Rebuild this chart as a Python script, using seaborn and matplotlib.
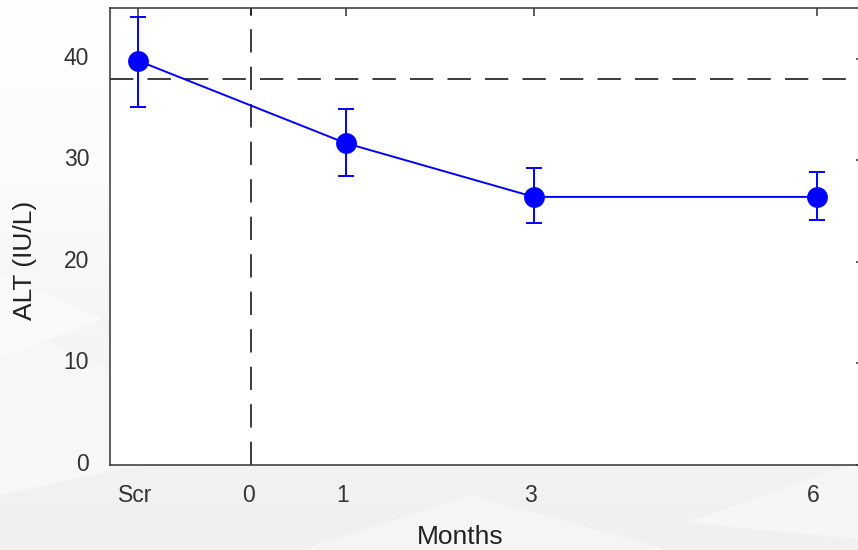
import matplotlib
matplotlib.use("Agg")
import matplotlib.pyplot as plt
import matplotlib.transforms as mtransforms
from matplotlib.patches import Polygon
import numpy as np
import pandas as pd
import seaborn as sns

# Visit labels, their position on the month axis, and ALT summary values
visits = ["Scr", "1", "3", "6"]
month_pos = [-1.2, 1, 3, 6]
alt_mean = [39.8, 31.7, 26.4, 26.4]
alt_upper = [44.1, 35.1, 29.2, 28.85]
alt_lower = [35.3, 28.5, 23.8, 24.1]

# Axis ticks
xtick_pos = [-1.2, 0, 1, 3, 6]
xtick_labels = ["Scr", "0", "1", "3", "6"]
ytick_pos = [0, 10, 20, 30, 40]

# Upper limit of normal for ALT and treatment start
alt_uln = 38
treatment_start = 0

sns.set_theme(style="white")
plt.rcParams["font.family"] = ["Liberation Sans", "DejaVu Sans"]

fig = plt.figure(figsize=(8.58, 5.5), dpi=100)
fig.patch.set_facecolor("white")

# Soft grey backdrop behind the plot area
bg = fig.add_axes([0, 0, 1, 1], zorder=-10)
bg.set_xlim(0, 1)
bg.set_ylim(0, 1)
bg.axis("off")
grad = np.linspace(0, 1, 256).reshape(-1, 1)
bg.imshow(grad, extent=[0, 1, 0, 1], aspect="auto", origin="lower",
          cmap=matplotlib.colors.LinearSegmentedColormap.from_list(
              "bgfade", ["#f0f0f1", "#f4f4f5", "#fbfbfb", "#ffffff"]), zorder=0)
shapes = [
    ([(0.0, 0.10), (0.0, 0.42), (0.30, 0.20)], "#f7f7f8"),
    ([(0.0, 0.35), (0.0, 0.50), (0.12, 0.42)], "#fafafa"),
    ([(0.35, 0.0), (0.55, 0.10), (0.78, 0.0)], "#f5f5f6"),
    ([(0.80, 0.05), (1.0, 0.16), (1.0, 0.02)], "#f6f6f7"),
]
for pts, col in shapes:
    bg.add_patch(Polygon(pts, closed=True, facecolor=col, edgecolor="none", zorder=1))

ax = fig.add_axes([110 / 858, 85 / 550, 753.6 / 858, 457 / 550])
ax.set_facecolor("white")

df = pd.DataFrame({"visit": visits, "month": month_pos, "alt": alt_mean})
sns.lineplot(data=df, x="month", y="alt", ax=ax, color="#0000ff", linewidth=1.4,
             marker="o", markersize=15, markeredgewidth=0, sort=False, zorder=4)

err = np.array([np.array(alt_mean) - np.array(alt_lower),
                np.array(alt_upper) - np.array(alt_mean)])
ax.errorbar(month_pos, alt_mean, yerr=err, fmt="none", ecolor="#0000ff",
            elinewidth=1.4, capsize=5.5, capthick=1.4, zorder=3)

ax.axhline(alt_uln, color="#1a1a1a", linewidth=1.2, dashes=(14, 8.5), zorder=2)
ax.axvline(treatment_start, color="#1a1a1a", linewidth=1.2, dashes=(14, 8.5), zorder=2)

ax.set_xlim(-1.5, 6.5)
ax.set_ylim(0, 45)
ax.set_xticks(xtick_pos)
ax.set_xticklabels(xtick_labels)
ax.set_yticks(ytick_pos)

ax.tick_params(axis="both", which="major", direction="in", length=6, width=1.1,
               colors="#333333", labelsize=16.5, top=True, right=True,
               labelcolor="#333333")
ax.tick_params(axis="x", pad=14)
ax.tick_params(axis="y", pad=15)

# nudge tick labels slightly
for lab in ax.get_yticklabels():
    lab.set_transform(lab.get_transform() + mtransforms.ScaledTranslation(0, 3 / 100, fig.dpi_scale_trans))
for lab in ax.get_xticklabels():
    lab.set_transform(lab.get_transform() + mtransforms.ScaledTranslation(-3 / 100, 0, fig.dpi_scale_trans))

for sp in ax.spines.values():
    sp.set_color("#333333")
    sp.set_linewidth(1.1)
    sp.set_visible(True)

ax.set_xlabel("Months", fontsize=19, color="#222222")
ax.set_ylabel("ALT (IU/L)", fontsize=19, color="#222222")
ax.xaxis.set_label_coords((460 - 110) / 753.6, -(537 - 465) / 457)
ax.yaxis.set_label_coords(-(110 - 25) / 753.6, (465 - 260) / 457)
ax.xaxis.label.set_va("center")
ax.yaxis.label.set_va("center")

fig.savefig("out.png", dpi=100, facecolor=fig.get_facecolor())
